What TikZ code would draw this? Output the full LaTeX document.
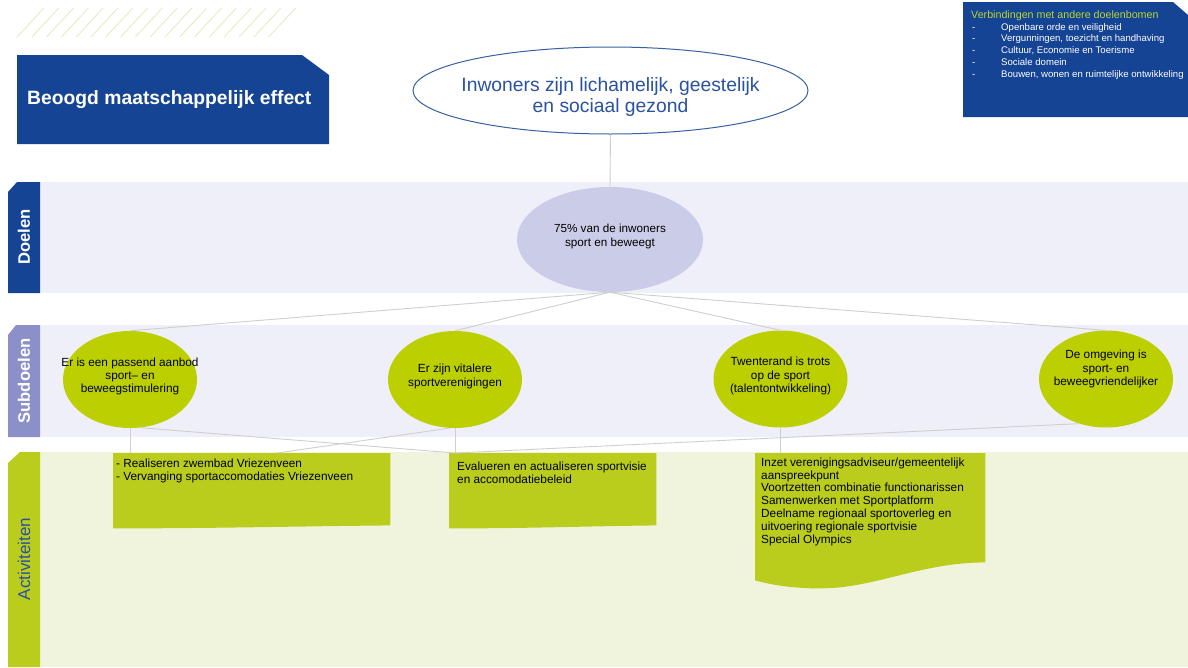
\documentclass[tikz,border=0pt]{standalone}
\usepackage{fontspec}
\setmainfont{Liberation Sans}
\usetikzlibrary{shapes.geometric,calc}
\pgfdeclarelayer{bg}
\pgfdeclarelayer{mid}
\pgfsetlayers{bg,mid,main}
\definecolor{dblue}{HTML}{154494}
\definecolor{bandlav}{HTML}{EEEFF8}
\definecolor{lav}{HTML}{CBCDE8}
\definecolor{midlav}{HTML}{8B90C8}
\definecolor{lime}{HTML}{BCCF00}
\definecolor{limebox}{HTML}{BACD1C}
\definecolor{bandlime}{HTML}{F1F4DD}
\definecolor{hatchcol}{HTML}{E6EDC4}
\definecolor{linegray}{HTML}{CFCFCF}
\definecolor{titlegreen}{HTML}{B7D436}
\definecolor{textblue}{HTML}{2A52A2}
\newcommand\myfs[2]{\fontsize{#1}{#2}\selectfont}
\begin{document}
\begin{tikzpicture}[x=1pt,y=-1pt,
  bandlavstyle/.style={fill=bandlav},
  bandlimestyle/.style={fill=bandlime},
  tabtext/.style={rotate=90,text=white,font=\bfseries\myfs{16.6}{18},inner sep=0pt},
  subdoel/.style={ellipse,fill=lime,minimum width=134pt,minimum height=97pt,inner sep=0pt},
  subtext/.style={align=center,font=\myfs{11.8}{13.3},text=black,inner sep=0pt},
  actbox/.style={anchor=north west,inner sep=0pt},
  acttext/.style={anchor=north west,align=left,font=\myfs{11.8}{13},text=black,inner sep=0pt},
  conn/.style={draw=linegray,line width=0.9pt},
  hatchline/.style={draw=hatchcol,line width=0.9pt},
  listtext/.style={anchor=west,text=white,font=\myfs{9.6}{11},inner sep=0pt,text height=0.75em,text depth=0.25em}
]
\useasboundingbox (0,0) rectangle (1188,667);
\begin{pgfonlayer}{bg}
  \fill[white] (0,0) rectangle (1188,667);
  \fill[bandlavstyle] (40,182) rectangle (1188,293);
  \fill[bandlavstyle] (40,325) rectangle (1188,437);
  \fill[bandlimestyle] (40,452) rectangle (1188,667);
  \fill[dblue] (8,192) -- (17,182) -- (40,182) -- (40,293) -- (8,293) -- cycle;
  \fill[midlav] (8,335) -- (16,325) -- (40,325) -- (40,437) -- (8,437) -- cycle;
  \fill[limebox] (8,463) -- (20,452) -- (40,452) -- (40,667) -- (8,667) -- cycle;
\end{pgfonlayer}

% hatch
\foreach \k in {0,...,17}
  \draw[hatchline] ({17+14.8*\k},37) -- ({44+14.8*\k},8);

% header box
\fill[dblue] (17,55) -- (302,55) -- (329,75) -- (329,144) -- (17,144) -- cycle;
\node[anchor=west,text=white,font=\bfseries\myfs{19.3}{22},inner sep=0pt] (hdr) at (27,100) {Beoogd maatschappelijk effect};

% top right box
\fill[dblue] (963,2) -- (1173,2) -- (1188,15) -- (1188,117) -- (963,117) -- cycle;
\node[anchor=west,text=titlegreen,font=\myfs{10.7}{12},inner sep=0pt,text height=0.75em,text depth=0.25em] (vtitle) at (971,15.5) {Verbindingen met andere doelenbomen};
\foreach \t [count=\i] in {Openbare orde en veiligheid,{Vergunningen, toezicht en handhaving},{Cultuur, Economie en Toerisme},Sociale domein,{Bouwen, wonen en ruimtelijke ontwikkeling}}{
  \node[listtext] (vd\i) at (972,{27.5+11.8*(\i-1)}) {-};
  \node[listtext] (vi\i) at (1001,{27.5+11.8*(\i-1)}) {\t};
}

% tab labels
\node[tabtext] (tdoel) at (24,237) {Doelen};
\node[tabtext] (tsub) at (24,381) {Subdoelen};
\node[tabtext,text=textblue,font=\myfs{17}{18}] (tact) at (24,559) {Activiteiten};

% main ellipse
\node[ellipse,draw=dblue!85,line width=1pt,fill=white,minimum width=395pt,minimum height=87pt,inner sep=0pt,
  label={[align=center,text=textblue,font=\myfs{19.3}{21},inner sep=0pt,yshift=-7pt]center:{Inwoners zijn lichamelijk, geestelijk\\en sociaal gezond}}] (big) at (610.5,90.5) {};

% doel
\node[ellipse,fill=lav,minimum width=186pt,minimum height=105pt,inner sep=0pt,
  label={[align=center,font=\myfs{11.7}{14},inner sep=0pt,yshift=3pt]center:{75\% van de inwoners\\sport en beweegt}}] (d) at (610,239.5) {};

% subdoelen
\node[subdoel,label={[subtext,yshift=3pt]center:{Er is een passend aanbod\\sport– en\\beweegstimulering}}] (e1) at (130,379.5) {};
\node[subdoel,label={[subtext,yshift=3pt]center:{Er zijn vitalere\\sportverenigingen}}] (e2) at (455,379.5) {};
\node[subdoel,label={[subtext,yshift=3pt]center:{Twenterand is trots\\op de sport\\(talentontwikkeling)}}] (e3) at (780.5,379) {};
\node[subdoel,label={[subtext,yshift=10pt]center:{De omgeving is\\sport- en\\beweegvriendelijker}}] (e4) at (1106,379) {};

% activiteiten
\node[actbox,minimum width=277pt,minimum height=75pt,
  label={[acttext,xshift=3pt,yshift=-5.5pt]north west:{- Realiseren zwembad Vriezenveen\\- Vervanging sportaccomodaties Vriezenveen}}] (A) at (113,453) {};
\node[actbox,minimum width=207pt,minimum height=75pt,
  label={[acttext,xshift=8pt,yshift=-8.5pt]north west:{Evalueren en actualiseren sportvisie\\en accomodatiebeleid}}] (B) at (449,453) {};
\node[actbox,minimum width=230pt,minimum height=135pt,
  label={[acttext,font=\myfs{11.8}{12.8},xshift=6pt,yshift=-4.5pt]north west:{Inzet verenigingsadviseur/gemeentelijk\\aanspreekpunt\\Voortzetten combinatie functionarissen\\Samenwerken met Sportplatform\\Deelname regionaal sportoverleg en\\uitvoering regionale sportvisie\\Special Olympics}}] (C) at (755,453) {};

\begin{pgfonlayer}{mid}
  \fill[limebox] (A.north west) -- (A.north east) -- ([yshift=3pt]A.south east)
    .. controls ([xshift=-100pt,yshift=2pt]A.south east) and ([xshift=100pt]A.south west) .. (A.south west) -- cycle;
  \fill[limebox] (B.north west) -- (B.north east) -- ([yshift=3pt]B.south east)
    .. controls ([xshift=-80pt,yshift=2pt]B.south east) and ([xshift=80pt]B.south west) .. (B.south west) -- cycle;
  \fill[limebox] (C.north west) -- (C.north east) -- ([yshift=26pt]C.south east)
    .. controls ([xshift=-65pt,yshift=26pt]C.south east) and ([xshift=120pt]C.south west) .. ([xshift=65pt]C.south west)
    .. controls ([xshift=35pt]C.south west) and ([xshift=15pt,yshift=4pt]C.south west) .. ([yshift=8pt]C.south west) -- cycle;
\end{pgfonlayer}

% connectors
\draw[conn] (big.south) -- (d.north);
\foreach \n in {e1,e2,e3,e4}
  \draw[conn] (d.south) -- (\n.north);
\draw[conn] (e1.south) -- (e1.south |- A.north);
\draw[conn] (e1.-78) -- (e2.south |- B.north);
\draw[conn] (e2.south) -- (e2.south |- B.north);
\draw[conn] (e2.-96) -- ([xshift=164pt]A.north west);
\draw[conn] (e3.south) -- (e3.south |- C.north);
\draw[conn] (e4.-121) -- (e2.south |- B.north);
\end{tikzpicture}
\end{document}
